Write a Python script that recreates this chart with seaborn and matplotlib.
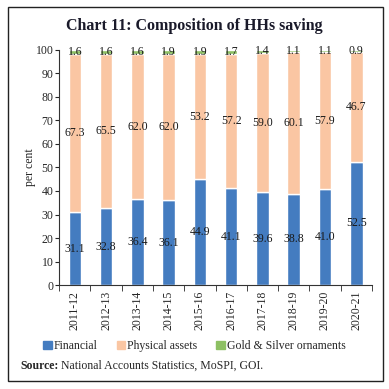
import matplotlib
matplotlib.use("Agg")
import matplotlib.pyplot as plt
import matplotlib.patches as mpatches
import seaborn as sns
import numpy as np

# Données
annees = ["2011-12", "2012-13", "2013-14", "2014-15", "2015-16",
          "2016-17", "2017-18", "2018-19", "2019-20", "2020-21"]
financier = [31.1, 32.8, 36.4, 36.1, 44.9, 41.1, 39.6, 38.8, 41.0, 52.5]
physique = [67.3, 65.5, 62.0, 62.0, 53.2, 57.2, 59.0, 60.1, 57.9, 46.7]
or_argent = [1.6, 1.6, 1.6, 1.9, 1.9, 1.7, 1.4, 1.1, 1.1, 0.9]
series = ["Financial", "Physical assets", "Gold & Silver ornaments"]
couleurs = ["#447cc0", "#fac6a3", "#8dc063"]

sns.set_style("ticks")
plt.rcParams['font.family'] = ['Liberation Serif', 'DejaVu Serif']

fig = plt.figure(figsize=(3.89, 3.89), dpi=100)
ax = fig.add_axes([0.152, 0.267, 0.804, 0.605])

bas2 = np.array(financier) + np.array(physique)
sns.barplot(x=annees, y=financier, color=couleurs[0], width=0.4, saturation=1, ax=ax)
sns.barplot(x=annees, y=physique, bottom=financier, color=couleurs[1], width=0.4,
            saturation=1, ax=ax)
sns.barplot(x=annees, y=or_argent, bottom=bas2, color=couleurs[2], width=0.4,
            saturation=1, ax=ax)

for cont in ax.containers:
    ax.bar_label(cont, fmt="%.1f", label_type="center", fontsize=8.5, color="#1a1a1a")

ax.set_ylim(0, 100)
ax.set_yticks(range(0, 101, 10))
ax.set_xlim(-0.5, 9.5)
ax.set_ylabel("per cent", fontsize=8.5, labelpad=0)
ax.tick_params(axis="y", labelsize=8.5, length=3, pad=1)
ax.tick_params(axis="x", which="major", length=0, labelsize=8.5, rotation=90, pad=4)
ax.set_xticks(np.arange(-0.5, 10, 1), minor=True)
ax.tick_params(axis="x", which="minor", length=4)
sns.despine(ax=ax)
for s in ["left", "bottom"]:
    ax.spines[s].set_color("#333333")
    ax.spines[s].set_linewidth(0.8)

# Titre
fig.text(0.5, 0.932, "Chart 11: Composition of HHs saving", ha="center", va="center",
         fontsize=11.5, fontweight="bold", color="#1a1a2a")

# Légende
poignees = [mpatches.Patch(color=c, label=s) for c, s in zip(couleurs, series)]
fig.legend(handles=poignees, loc="center", bbox_to_anchor=(0.5, 0.11), ncol=3,
           frameon=False, fontsize=8.5, handlelength=0.7, handleheight=0.7,
           handletextpad=0.2, columnspacing=1.6)

# Source
t = fig.text(0.052, 0.059, "Source:", fontsize=8.5, fontweight="bold", va="center")
fig.canvas.draw()
bb = t.get_window_extent().transformed(fig.transFigure.inverted())
fig.text(bb.x1 + 0.006, 0.059, "National Accounts Statistics, MoSPI, GOI.",
         fontsize=8.5, va="center")

# Cadre
fig.patches.append(mpatches.Rectangle((8/389, 1-381/389), 375/389, 374/389,
                                      transform=fig.transFigure, fill=False,
                                      edgecolor="#222222", linewidth=1))

plt.savefig("out.png", dpi=100)
